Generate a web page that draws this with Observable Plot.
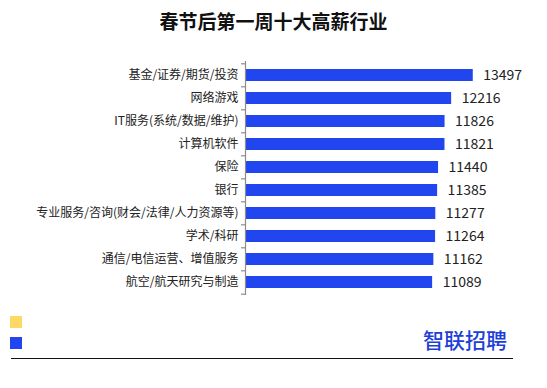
<!DOCTYPE html>
<html>
<head>
<meta charset="utf-8">
<script src="https://cdn.jsdelivr.net/npm/d3@7"></script>
<script src="https://cdn.jsdelivr.net/npm/@observablehq/plot@0.6"></script>
<style>
  html, body { margin: 0; padding: 0; background: #fff; }
  #wrap { position: relative; width: 547px; height: 388px; overflow: hidden; font-family: "Noto Sans CJK SC", "Noto Sans", sans-serif; }
  #title { position: absolute; left: 0; top: 8px; width: 547px; text-align: center; font-size: 19px; font-weight: bold; color: #111; line-height: 26px; }
  #chart { position: absolute; left: 0; top: 0; }
  .sq { position: absolute; left: 10px; width: 12px; height: 12px; }
  #logo { position: absolute; left: 423px; top: 325px; font-size: 21px; font-weight: 500; color: #1E3FD6; letter-spacing: 0px; line-height: 28px; }
  #rule { position: absolute; left: 11px; top: 358px; width: 502px; height: 1px; background: #111; }
</style>
</head>
<body>
<div id="wrap">
  <div id="chart"></div>
  <div id="title">春节后第一周十大高薪行业</div>
  <div class="sq" style="top:316px; background:#FFD966;"></div>
  <div class="sq" style="top:337px; background:#2146F0;"></div>
  <div id="logo">智联招聘</div>
  <div id="rule"></div>
</div>
<script>
const industries = [
  "基金/证券/期货/投资",
  "网络游戏",
  "IT服务(系统/数据/维护)",
  "计算机软件",
  "保险",
  "银行",
  "专业服务/咨询(财会/法律/人力资源等)",
  "学术/科研",
  "通信/电信运营、增值服务",
  "航空/航天研究与制造"
];
const salaries = [13497, 12216, 11826, 11821, 11440, 11385, 11277, 11264, 11162, 11089];

const data = industries.map((name, i) => ({name, value: salaries[i]}));
const halfStep = 11.7;

const chart = Plot.plot({
  width: 547,
  height: 388,
  marginTop: 61,
  marginBottom: 93,
  marginLeft: 245,
  marginRight: 32,
  style: {fontFamily: '"Noto Sans CJK SC", "Noto Sans", sans-serif', background: "transparent"},
  x: {domain: [0, 16000], axis: null},
  y: {domain: industries, paddingInner: 0.5, paddingOuter: 0.25, label: null},
  marks: [
    Plot.barX(data, {x: "value", y: "name", fill: "#2146F0"}),
    Plot.ruleX([0], {stroke: "#8c8c8c", strokeWidth: 1.2}),
    Plot.ruleY(industries, {y: d => d, x1: 0, x2: 0, insetLeft: -4, dy: -halfStep, stroke: "#8c8c8c", strokeWidth: 1.2}),
    Plot.ruleY(industries.slice(-1), {y: d => d, x1: 0, x2: 0, insetLeft: -4, dy: halfStep, stroke: "#8c8c8c", strokeWidth: 1.2}),
    Plot.axisY({tickSize: 0, tickPadding: 7, fontSize: 12, color: "#222", label: null}),
    Plot.text(data, {x: "value", y: "name", text: d => String(d.value), dx: 10, textAnchor: "start", fontSize: 14, fill: "#222"})
  ]
});
document.getElementById("chart").appendChild(chart);
</script>
</body>
</html>
